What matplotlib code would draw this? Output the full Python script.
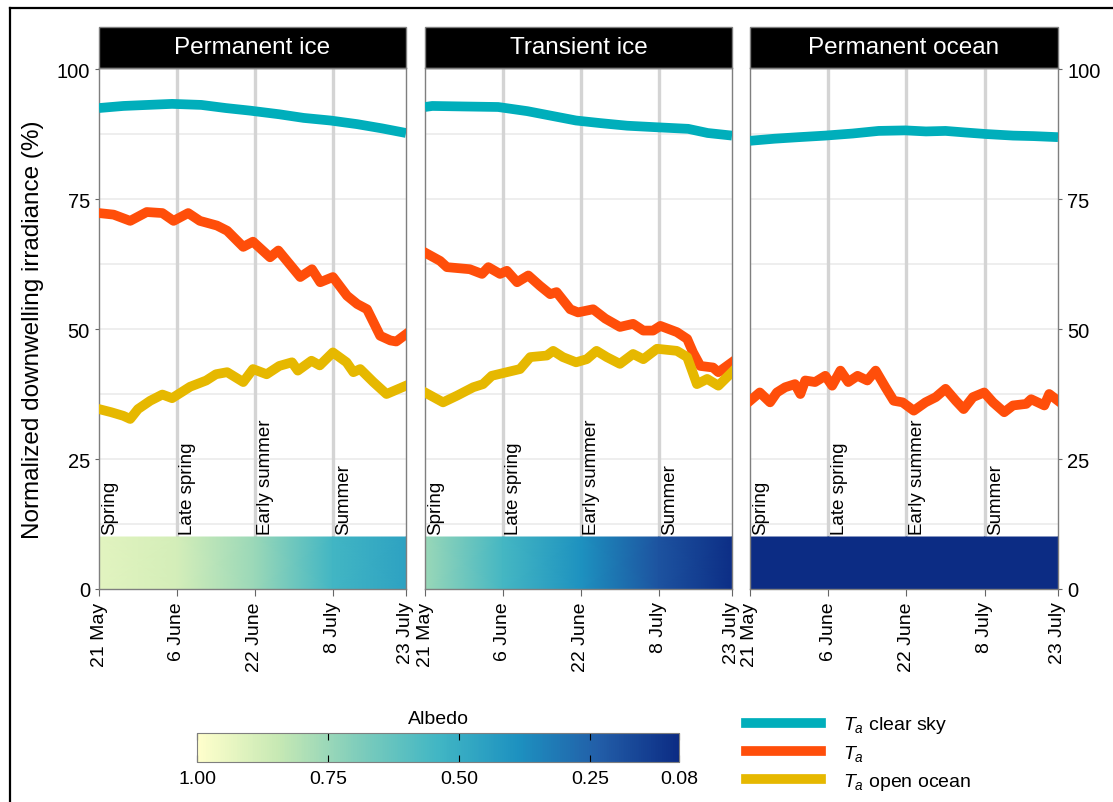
import numpy as np
import matplotlib
matplotlib.use('Agg')
import matplotlib.pyplot as plt
from matplotlib.patches import Rectangle
from matplotlib.lines import Line2D
from matplotlib import cm, colors

plt.rcParams['font.family'] = ['Liberation Sans', 'DejaVu Sans']
plt.rcParams['mathtext.fontset'] = 'custom'
plt.rcParams['mathtext.it'] = 'Liberation Sans:italic'
plt.rcParams['mathtext.rm'] = 'Liberation Sans'

# days since 21 May
tick_days = [0, 16, 32, 48, 63]
tick_labels = ['21 May', '6 June', '22 June', '8 July', '23 July']
seasons = ['Spring', 'Late spring', 'Early summer', 'Summer']
panel_titles = ['Permanent ice', 'Transient ice', 'Permanent ocean']

# Permanent ice
pi_clear_days = [0, 5, 10, 15, 21, 26, 31, 37, 42, 47.5, 53, 58, 63]
pi_clear = [92.5, 92.9, 93.1, 93.3, 93.1, 92.5, 92.0, 91.3, 90.6, 90.1, 89.4, 88.6, 87.7]
pi_ta_days = [0, 3, 6.4, 9.8, 13, 15.3, 18.3, 20.7, 24.2, 26.3, 29.6, 31.6, 35.1, 36.8,
              41.3, 43.7, 45.4, 48, 50.9, 53, 55, 57.7, 59.8, 61, 63]
pi_ta = [72.3, 72.0, 70.8, 72.5, 72.3, 70.8, 72.3, 70.8, 69.9, 68.9, 65.8, 66.8, 63.8, 65.1,
         60.0, 61.5, 59.0, 60.0, 56.4, 54.8, 53.8, 48.7, 47.8, 47.6, 49.0]
pi_oo_days = [0, 2.5, 5, 6.4, 8, 10.5, 13, 15, 18.7, 22, 24, 26.3, 29.6, 31.6, 34.4, 37,
              39.6, 40.8, 43.6, 45.3, 48, 50.8, 52.2, 53.6, 56.3, 59, 63]
pi_oo = [34.6, 34.0, 33.3, 32.7, 34.6, 36.2, 37.4, 36.7, 38.9, 40.1, 41.3, 41.7, 39.8, 42.3,
         41.3, 42.9, 43.6, 42.0, 43.9, 43.0, 45.5, 43.6, 41.7, 42.3, 39.8, 37.5, 39.1]

# Transient ice
ti_clear_days = [0, 1.5, 8, 15, 21, 26, 31, 36, 41.5, 47.6, 54, 58, 63]
ti_clear = [92.7, 92.9, 92.8, 92.7, 91.9, 91.0, 90.1, 89.6, 89.1, 88.8, 88.5, 87.7, 87.2]
ti_ta_days = [0, 3.1, 4.5, 9.2, 11.7, 13, 15.4, 16.8, 18.9, 21.2, 23.6, 25.7, 27, 29.8, 31.4,
              34.5, 37, 40, 42.7, 44.8, 46.8, 48.3, 51.7, 53.8, 55, 56.5, 59.1, 60.2, 63]
ti_ta = [64.7, 63.1, 61.9, 61.5, 60.6, 61.9, 60.6, 61.2, 59.0, 60.3, 58.3, 56.7, 57.1, 53.8, 53.2,
         53.8, 52.0, 50.4, 51.0, 49.7, 49.7, 50.6, 49.4, 48.1, 45.5, 42.9, 42.6, 41.7, 43.6]
ti_oo_days = [0, 3.7, 6.6, 9.9, 11.9, 13.7, 16.8, 19.5, 21.6, 25, 26.3, 28.3, 31, 33.2, 35.2,
              37.3, 40, 42.7, 44.8, 47.6, 51.7, 53.8, 55.8, 57.9, 60.2, 63]
ti_oo = [37.8, 35.9, 37.2, 38.8, 39.4, 41.0, 41.7, 42.3, 44.6, 44.9, 45.8, 44.6, 43.6, 44.2, 45.8,
         44.6, 43.3, 45.2, 44.2, 46.2, 45.8, 44.6, 39.4, 40.4, 39.1, 41.7]

# Permanent ocean
po_clear_days = [0, 5, 10, 15.4, 21, 26.3, 31.8, 36, 40, 44, 48.3, 53.8, 58, 63]
po_clear = [86.2, 86.6, 86.9, 87.2, 87.6, 88.1, 88.2, 88.0, 88.1, 87.8, 87.5, 87.2, 87.1, 86.9]
po_ta_days = [0, 2, 4.1, 5.5, 7.2, 9.2, 10.3, 11.3, 13.3, 15.4, 16.8, 18.5, 20.1, 22, 24, 25.7,
              27.7, 29.4, 31.2, 33.5, 35.9, 38, 40, 42.1, 43.7, 45.6, 47.9, 49.7, 52, 53.8,
              56.5, 57.5, 60.2, 61.2, 63]
po_ta = [36.2, 37.8, 35.9, 37.8, 38.8, 39.4, 37.5, 40.1, 39.8, 41.0, 39.1, 42.0, 39.8, 41.0, 40.1,
         42.0, 38.8, 36.2, 35.9, 34.3, 35.9, 36.9, 38.5, 36.2, 34.6, 36.9, 37.8, 35.9, 34.0, 35.3,
         35.6, 36.5, 35.3, 37.5, 36.2]

# albedo along the season band
albedo_days = [0, 16, 32, 48, 63]
pi_albedo = [0.92, 0.88, 0.75, 0.54, 0.46]
ti_albedo = [0.75, 0.55, 0.39, 0.20, 0.09]
po_albedo = [0.08, 0.08, 0.08, 0.08, 0.08]
albedo_ticks = [1.0, 0.75, 0.5, 0.25, 0.08]

c_clear = '#00AEBB'
c_ta = '#FF4E0A'
c_oo = '#E6B800'

panels = [
    (pi_clear_days, pi_clear, pi_ta_days, pi_ta, pi_oo_days, pi_oo, pi_albedo),
    (ti_clear_days, ti_clear, ti_ta_days, ti_ta, ti_oo_days, ti_oo, ti_albedo),
    (po_clear_days, po_clear, po_ta_days, po_ta, None, None, po_albedo),
]

# 7-class YlGnBu, high albedo = light
ylgnbu7 = ['#ffffcc', '#c7e9b4', '#7fcdbb', '#41b6c4', '#1d91c0', '#225ea8', '#0c2c84']
cmap = colors.LinearSegmentedColormap.from_list('albedo', ylgnbu7[::-1])
norm = colors.Normalize(vmin=0.08, vmax=1.0)

fig = plt.figure(figsize=(11.13, 8.03), dpi=100)
W, H = 1113, 803
lefts = [99, 425, 750]
widths = [307, 307, 308]
ax_bottom = (H - 590) / H
ax_height = 521 / H
head_h = 41 / 521

for i, (cd, cv, td, tv, od, ov, alb) in enumerate(panels):
    ax = fig.add_axes([lefts[i] / W, ax_bottom, widths[i] / W, ax_height])
    ax.set_xlim(0, 63)
    ax.set_ylim(0, 100.2)
    for g in np.arange(12.5, 100.1, 12.5):
        ax.axhline(g, color='#EBEBEB', lw=1.2, zorder=0)
    for d in tick_days[1:-1]:
        ax.axvline(d, color='#D4D4D4', lw=2.4, zorder=1)
    ax.pcolormesh(albedo_days, [0, 10], np.vstack([alb, alb]), shading='gouraud',
                  cmap=cmap, norm=norm, zorder=2)
    for d, s in zip(tick_days[:-1], seasons):
        ax.text(d + 0.5, 10.6, s, rotation=90, ha='left', va='bottom', fontsize=13.5, zorder=3)
    ax.plot(cd, cv, color=c_clear, lw=7, solid_capstyle='butt', zorder=4)
    ax.plot(td, tv, color=c_ta, lw=7, solid_joinstyle='round', zorder=4)
    if od is not None:
        ax.plot(od, ov, color=c_oo, lw=7, solid_joinstyle='round', zorder=4)

    ax.set_xticks(tick_days)
    ax.set_xticklabels(tick_labels, rotation=90, fontsize=14)
    ax.set_yticks([0, 25, 50, 75, 100])
    ax.tick_params(axis='x', direction='out', length=5, color='#666666', pad=4)
    ax.tick_params(axis='y', direction='out', length=3, color='#666666', labelsize=14.5)
    for sp in ax.spines.values():
        sp.set_color('#7F7F7F')
        sp.set_linewidth(1.0)
    if i == 0:
        ax.set_ylabel('Normalized downwelling irradiance (%)', fontsize=17.5, labelpad=9)
    elif i == 2:
        ax.yaxis.tick_right()
    else:
        ax.tick_params(axis='y', left=False, labelleft=False)

    ax.add_patch(Rectangle((0, 1.0), 1, head_h, transform=ax.transAxes, facecolor='black',
                           edgecolor='#7F7F7F', lw=1.0, clip_on=False))
    ax.text(0.5, 1 + head_h / 2, panel_titles[i], transform=ax.transAxes, color='white',
            ha='center', va='center', fontsize=17.5)

# albedo colour bar
cax = fig.add_axes([197 / W, (H - 763) / H, 482 / W, 29 / H])
sm = cm.ScalarMappable(norm=norm, cmap=cmap)
cb = fig.colorbar(sm, cax=cax, orientation='horizontal', ticks=albedo_ticks)
cax.invert_xaxis()
cb.ax.set_xticklabels(['%.2f' % t for t in albedo_ticks])
cax.tick_params(direction='in', top=True, bottom=True, length=5, labelsize=14, pad=6)
cb.outline.set_edgecolor('#7F7F7F')
cax.set_title('Albedo', fontsize=14, pad=7)

# legend
handles = [Line2D([], [], color=c_clear, lw=7),
           Line2D([], [], color=c_ta, lw=7),
           Line2D([], [], color=c_oo, lw=7)]
labels = ['$T_a$ clear sky', '$T_a$', '$T_a$ open ocean']
fig.legend(handles, labels, loc='upper left', bbox_to_anchor=(728 / W, 1 - 698 / H),
           frameon=False, fontsize=14, handlelength=3.9, labelspacing=0.4,
           handletextpad=1.1)

# outer frame (left and top edges visible)
fig.add_artist(Line2D([10 / W, 10 / W], [0, 1 - 9 / H], color='black', lw=1.6))
fig.add_artist(Line2D([10 / W, 1], [1 - 9 / H, 1 - 9 / H], color='black', lw=1.6))

fig.savefig('out.png', dpi=100)
